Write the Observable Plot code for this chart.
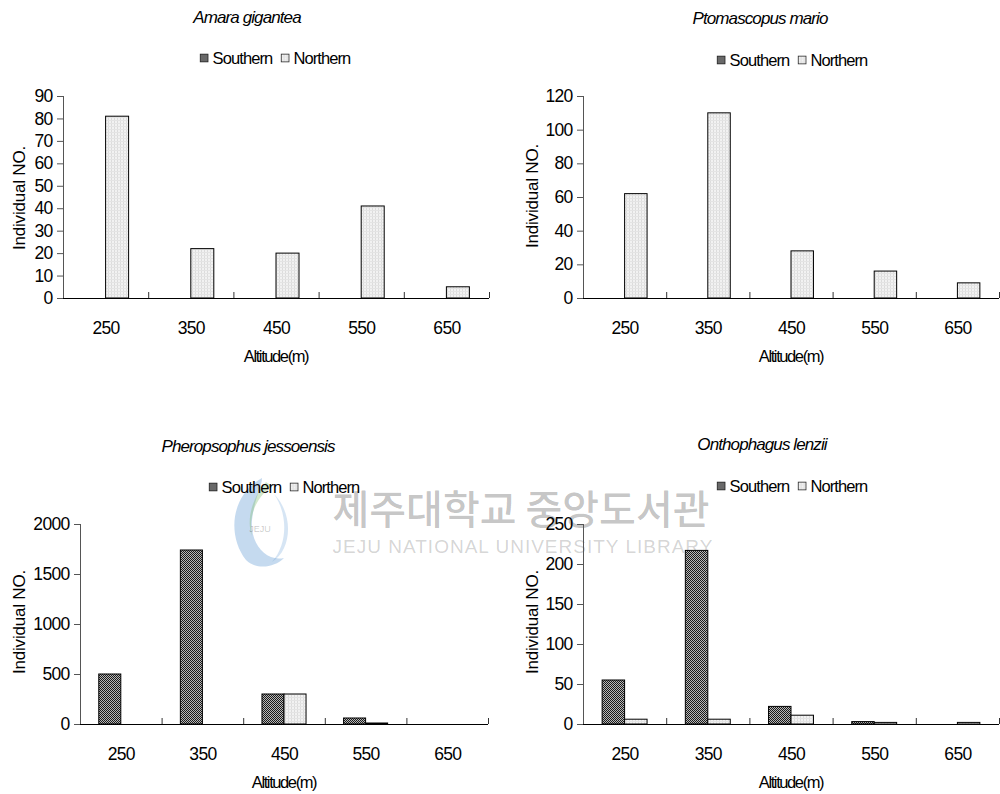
<!DOCTYPE html>
<html><head><meta charset="utf-8">
<script src="https://cdn.jsdelivr.net/npm/d3@7"></script>
<script src="https://cdn.jsdelivr.net/npm/@observablehq/plot@0.6"></script>
<style>
body{margin:0;background:#fff;}
#root{position:relative;width:1000px;height:794px;overflow:hidden;font-family:"Liberation Sans",Arial,sans-serif;color:#000;background:#fff;}
.abs{position:absolute;}
.title{font-style:italic;font-size:17px;letter-spacing:-0.9px;white-space:nowrap;transform:translate(-50%,-50%);}
.legend{display:flex;align-items:center;font-size:16.5px;letter-spacing:-0.9px;white-space:nowrap;transform:translate(-50%,-50%);}
.legend svg{margin-right:4px;}
.legend .gap{width:8px;}
.ylab{font-size:17px;letter-spacing:-0.2px;white-space:nowrap;transform:translate(-50%,-50%) rotate(-90deg);}
.xlab{font-size:16.5px;letter-spacing:-1.4px;white-space:nowrap;transform:translate(-50%,-50%);}
.wm{pointer-events:none;white-space:nowrap;}
</style></head>
<body>
<svg width="0" height="0" style="position:absolute">
  <defs>
    <pattern id="south" width="2" height="2" patternUnits="userSpaceOnUse">
      <rect width="2" height="2" fill="#b8b8b8"/>
      <rect x="0" y="0" width="1" height="1" fill="#1a1a1a"/>
      <rect x="1" y="1" width="1" height="1" fill="#1a1a1a"/>
    </pattern>
    <pattern id="north" width="3" height="3" patternUnits="userSpaceOnUse">
      <rect width="3" height="3" fill="#f2f2f2"/>
      <rect x="0" y="0" width="1" height="3" fill="#dcdcdc"/>
      <rect x="0" y="0" width="3" height="1" fill="#e4e4e4"/>
    </pattern>
  </defs>
</svg>
<div id="root"></div>
<script>
// ---- data ----
const altitudes = [250, 350, 450, 550, 650];
const boundaries = [300, 400, 500, 600, 700];
const seriesNames = ["Southern", "Northern"];
const titles = ["Amara gigantea", "Ptomascopus mario", "Pheropsophus jessoensis", "Onthophagus lenzii"];
const yLabel = "Individual NO.";
const xLabel = "Altitude(m)";

const amaraSouthern = [0, 0, 0, 0, 0];
const amaraNorthern = [81, 22, 20, 41, 5];
const ptomaSouthern = [0, 0, 0, 0, 0];
const ptomaNorthern = [62, 110, 28, 16, 9];
const pheroSouthern = [500, 1740, 300, 60, 0];
const pheroNorthern = [0, 0, 300, 10, 0];
const onthoSouthern = [55, 217, 22, 3, 0];
const onthoNorthern = [6, 6, 11, 2, 2];

const yTicksAmara = [0, 10, 20, 30, 40, 50, 60, 70, 80, 90];
const yTicksPtoma = [0, 20, 40, 60, 80, 100, 120];
const yTicksPhero = [0, 500, 1000, 1500, 2000];
const yTicksOntho = [0, 50, 100, 150, 200, 250];

// ---- layout ----
const root = document.getElementById("root");
const BW = 27; // bar width in altitude units

function addDiv(cls, html, x, y) {
  const d = document.createElement("div");
  d.className = "abs " + cls;
  d.style.left = x + "px";
  d.style.top = y + "px";
  d.innerHTML = html;
  root.appendChild(d);
  return d;
}

function swatch(id) {
  return `<svg width="9" height="9"><rect x="0.5" y="0.5" width="8" height="8" fill="url(#${id})" stroke="#222"/></svg>`;
}

function panel(cfg) {
  const {south, north, yTicks, left, top, width, height, mt, mb, ml, mr, title, titleX, titleY, legX, legY, ylX, ylY, xlY} = cfg;
  const data = [];
  altitudes.forEach((a, i) => {
    data.push({alt: a, series: seriesNames[0], value: south[i]});
    data.push({alt: a, series: seriesNames[1], value: north[i]});
  });
  const sData = data.filter(d => d.series === "Southern" && d.value > 0);
  const nData = data.filter(d => d.series === "Northern" && d.value > 0);
  const ph = height - mt - mb;
  const chart = Plot.plot({
    width, height,
    marginTop: mt, marginBottom: mb, marginLeft: ml, marginRight: mr,
    style: {fontFamily: "Liberation Sans, Arial, sans-serif", fontSize: "17px", letterSpacing: "-0.7px", background: "transparent", overflow: "visible", color: "#000"},
    x: {domain: [200, 700]},
    y: {domain: [0, yTicks[yTicks.length - 1]]},
    marks: [
      Plot.rectY(sData, {x1: d => d.alt - BW, x2: d => d.alt, y: "value", fill: "url(#south)", stroke: "#000", strokeWidth: 1}),
      Plot.rectY(nData, {x1: d => d.alt, x2: d => d.alt + BW, y: "value", fill: "url(#north)", stroke: "#000", strokeWidth: 1}),
      Plot.ruleX(boundaries, {stroke: "#333", insetTop: ph - 6}),
      Plot.ruleY([0], {stroke: "#000", strokeWidth: 1.2}),
      Plot.ruleX([200], {stroke: "#555"}),
      Plot.axisY(yTicks, {tickSize: 6, tickPadding: 5, stroke: "#555", label: null, tickFormat: d3.format("d"), fontSize: 17.5}),
      Plot.axisX(altitudes, {tickSize: 0, tickPadding: 23, label: null, tickFormat: d3.format("d"), fontSize: 17.5})
    ]
  });
  const wrap = document.createElement("div");
  wrap.className = "abs";
  wrap.style.left = left + "px";
  wrap.style.top = top + "px";
  wrap.style.width = width + "px";
  wrap.style.height = height + "px";
  wrap.appendChild(chart);
  root.appendChild(wrap);

  addDiv("title", title, titleX, titleY);
  addDiv("legend", `${swatch("south")}<span>${seriesNames[0]}</span><span class="gap"></span>${swatch("north")}<span>${seriesNames[1]}</span>`, legX, legY);
  addDiv("ylab", yLabel, ylX, ylY);
  addDiv("xlab", xLabel, left + ml + (width - ml - mr) / 2, xlY);
}

// ---- watermark (drawn first, beneath the charts' text) ----
const logo = document.createElement("div");
logo.className = "abs wm";
logo.style.left = "222px"; logo.style.top = "474px";
logo.innerHTML = `<svg width="72" height="96">
  <path d="M40,4 C10,20 4,60 24,86 C34,96 52,94 62,84 C44,88 28,70 30,46 C32,26 40,12 40,4Z" fill="rgba(90,150,210,0.35)"/>
  <path d="M44,8 C30,24 24,46 30,62 C26,42 34,24 50,12Z" fill="rgba(130,190,110,0.35)"/>
  <path d="M52,20 C66,40 66,70 50,88 C70,76 72,40 52,20Z" fill="rgba(90,150,210,0.25)"/>
  <text x="38" y="58" text-anchor="middle" font-size="9" font-family="Liberation Sans" fill="rgba(0,0,0,0.22)">JEJU</text>
</svg>`;
root.appendChild(logo);
const wk = addDiv("wm", "제주대학교 중앙도서관", 521, 507);
wk.style.transform = "translate(-50%,-50%)";
wk.style.fontFamily = '"Noto Sans CJK KR", sans-serif';
wk.style.fontSize = "40px";
wk.style.fontWeight = "500";
wk.style.color = "rgba(0,0,0,0.24)";
const we = addDiv("wm", "JEJU NATIONAL UNIVERSITY LIBRARY", 523, 547);
we.style.transform = "translate(-50%,-50%)";
we.style.fontSize = "19px";
we.style.letterSpacing = "1px";
we.style.color = "rgba(0,0,0,0.18)";

panel({south: amaraSouthern, north: amaraNorthern, yTicks: yTicksAmara,
  left: 0, top: 0, width: 500, height: 380, mt: 96, mb: 82, ml: 63, mr: 11,
  title: titles[0], titleX: 247, titleY: 18, legX: 275, legY: 58, ylX: 20, ylY: 198, xlY: 356});
panel({south: ptomaSouthern, north: ptomaNorthern, yTicks: yTicksPtoma,
  left: 500, top: 0, width: 500, height: 380, mt: 96, mb: 82, ml: 83, mr: 1,
  title: titles[1], titleX: 760, titleY: 19, legX: 792, legY: 60, ylX: 533, ylY: 196, xlY: 356});
panel({south: pheroSouthern, north: pheroNorthern, yTicks: yTicksPhero,
  left: 0, top: 400, width: 500, height: 394, mt: 124, mb: 70, ml: 80, mr: 12,
  title: titles[2], titleX: 248, titleY: 447, legX: 284, legY: 487, ylX: 20, ylY: 622, xlY: 782});
panel({south: onthoSouthern, north: onthoNorthern, yTicks: yTicksOntho,
  left: 500, top: 400, width: 500, height: 394, mt: 124, mb: 70, ml: 83, mr: 1,
  title: titles[3], titleX: 762, titleY: 445, legX: 792, legY: 486, ylX: 533, ylY: 622, xlY: 782});
</script>
</body></html>
